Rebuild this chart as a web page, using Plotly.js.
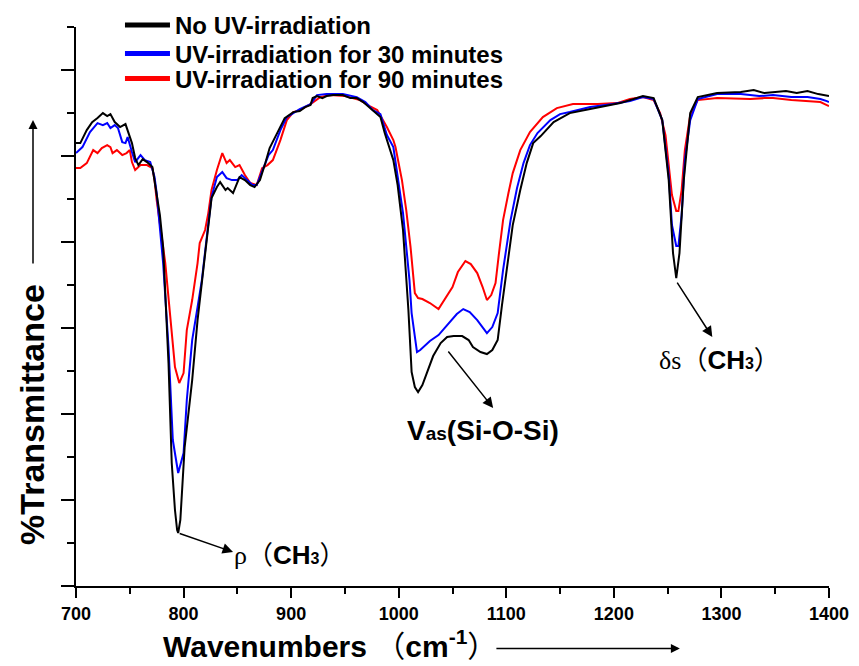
<!DOCTYPE html>
<html>
<head>
<meta charset="utf-8">
<script src="https://cdn.plot.ly/plotly-3.0.1.min.js"></script>
<style>html,body{margin:0;padding:0;background:#fff;}#chart{width:859px;height:666px;}</style>
</head>
<body>
<div id="chart"></div>
<script>
// Series names
var seriesNames = ["No UV-irradiation", "UV-irradiation for 30 minutes", "UV-irradiation for 90 minutes"];

// No UV-irradiation (black)
var wnBlack = [700,704,710,715,720,725,729,732,736,741,746,748,752,755,758,762,766,771,773,775,778,781,786,789,792,794,795,797,801,808,813,818,823,826,831,834,839,841,846,852,857,862,866,871,876,880,887,894,902,908,913,918,920,924,929,933,939,948,955,961,967,975,983,987,992,995,999,1004,1009,1012,1015,1018,1022,1026,1032,1039,1045,1051,1059,1065,1069,1076,1082,1087,1092,1096,1101,1106,1113,1119,1125,1132,1144,1159,1178,1194,1206,1215,1227,1237,1245,1251,1255,1258,1261,1265,1271,1278,1296,1318,1330,1340,1348,1360,1370,1380,1390,1398,1400];
var tBlack = [44.3,44.3,45.6,46.4,46.8,47.3,47.0,47.2,46.4,45.9,46.2,45.6,44.3,42.8,42.1,42.7,42.4,41.9,40.6,39.3,37.1,33.9,22.3,12.3,7.6,5.6,5.3,6.6,13.9,20.6,26.6,31.3,36.1,38.8,39.9,40.4,39.6,39.8,39.3,40.9,40.6,40.1,39.9,40.6,42.3,43.8,45.3,46.8,47.4,47.5,47.9,48.1,48.8,49.0,48.8,49.0,49.1,49.1,48.8,48.8,48.4,47.6,46.9,45.3,43.6,42.6,40.1,35.6,27.6,21.4,19.9,19.4,20.1,21.3,23.0,24.3,24.9,25.0,25.0,24.6,23.9,23.4,23.2,23.6,24.6,28.1,32.3,36.1,39.6,42.3,44.3,45.0,46.4,47.3,47.7,48.0,48.3,48.6,49.0,48.8,46.6,40.6,33.3,30.8,33.3,40.6,47.3,48.9,49.3,49.4,49.6,49.3,49.4,49.5,49.3,49.5,49.2,49.1,49.0];

// UV-irradiation for 30 minutes (blue)
var wnBlue = [700,706,713,720,725,729,732,736,739,743,746,748,752,755,760,764,769,773,775,781,786,790,795,800,803,808,813,817,822,826,831,836,840,845,850,854,859,864,868,874,879,883,890,896,908,918,924,933,948,961,969,976,983,989,995,1004,1010,1012,1015,1017,1020,1023,1029,1037,1042,1048,1054,1060,1066,1073,1079,1082,1087,1092,1097,1104,1110,1116,1122,1129,1141,1150,1159,1178,1199,1215,1227,1237,1245,1251,1254,1258,1260,1263,1266,1271,1278,1296,1318,1335,1348,1365,1380,1392,1398,1400];
var tBlue = [43.3,43.9,45.4,46.3,46.1,46.3,45.8,46.1,45.8,44.4,44.3,44.9,43.4,42.4,43.1,42.6,42.4,40.9,39.3,32.3,23.9,14.6,11.3,13.3,18.6,24.6,27.9,30.6,35.3,38.9,40.9,41.4,40.8,40.6,40.6,41.1,40.6,40.1,40.1,41.8,43.1,43.6,45.6,46.9,47.7,48.2,49.1,49.2,49.2,48.9,48.4,47.6,47.2,45.1,43.9,37.3,30.6,27.3,24.6,23.4,23.6,23.9,24.5,25.1,25.7,26.4,27.2,27.7,27.4,26.6,25.8,25.3,25.9,27.3,31.6,36.6,39.8,42.3,44.1,45.3,46.6,47.2,47.4,47.9,48.2,48.5,48.9,48.7,46.6,41.1,36.1,34.0,34.0,37.1,42.6,46.6,48.7,49.2,49.2,49.0,49.1,48.9,48.9,48.7,48.5,48.4];

// UV-irradiation for 90 minutes (red)
var wnRed = [700,704,710,716,720,724,729,732,734,738,743,747,750,752,755,760,766,771,773,775,783,787,792,796,800,803,808,813,815,820,823,826,831,836,840,843,848,852,857,862,868,873,878,883,890,896,902,908,918,927,936,950,964,973,980,989,995,997,1003,1007,1011,1015,1018,1022,1029,1037,1043,1050,1055,1062,1067,1073,1078,1082,1086,1090,1093,1097,1102,1106,1113,1122,1134,1147,1162,1185,1203,1215,1227,1237,1243,1248,1251,1254,1258,1260,1263,1266,1271,1278,1296,1318,1327,1340,1348,1365,1380,1392,1398,1400];
var tRed = [41.8,41.8,42.3,43.6,43.3,43.8,44.1,43.9,43.3,43.6,43.1,43.3,43.6,42.4,41.6,42.1,42.1,41.8,40.6,38.6,32.3,27.3,21.9,20.3,21.3,25.6,28.6,32.3,34.3,35.6,37.3,39.6,41.6,43.3,42.3,42.6,41.9,42.1,41.1,40.3,40.1,41.8,42.1,42.6,44.6,46.6,47.4,47.6,48.2,48.9,49.1,49.0,48.6,48.0,47.6,45.9,44.6,43.9,40.6,37.6,33.9,29.3,28.8,28.7,28.3,27.7,28.7,29.9,31.4,32.5,32.2,31.3,29.9,28.6,29.1,30.3,33.1,36.6,39.3,41.3,43.6,45.4,46.9,47.8,48.2,48.2,48.3,48.7,48.9,48.6,47.3,45.1,42.1,39.1,37.5,37.5,39.6,43.6,47.1,48.6,48.8,48.7,48.7,48.8,48.8,48.6,48.5,48.4,48.1,48.0];

// Axis
var xRange = [700, 1400];
var xTicks = [700, 800, 900, 1000, 1100, 1200, 1300, 1400];
var yRange = [0, 55.91];

var colors = ["#000000", "#0000ff", "#ff0000"];
var FONT = "Liberation Sans, Arial, sans-serif";
var CJK = "font-family:'Noto Sans CJK SC';font-weight:normal";
var SERIF = "font-family:'Liberation Serif';font-weight:normal";

var traces = [
  {x: wnRed, y: tRed, type: "scatter", mode: "lines", line: {color: colors[2], width: 2}, showlegend: false, hoverinfo: "skip"},
  {x: wnBlue, y: tBlue, type: "scatter", mode: "lines", line: {color: colors[1], width: 2}, showlegend: false, hoverinfo: "skip"},
  {x: wnBlack, y: tBlack, type: "scatter", mode: "lines", line: {color: colors[0], width: 2}, showlegend: false, hoverinfo: "skip"},
  // legend entries (thick lines)
  {x: [null], y: [null], type: "scatter", mode: "lines", name: seriesNames[0], line: {color: colors[0], width: 5}, legend: "legend"},
  {x: [null], y: [null], type: "scatter", mode: "lines", name: seriesNames[1], line: {color: colors[1], width: 5}, legend: "legend2"},
  {x: [null], y: [null], type: "scatter", mode: "lines", name: seriesNames[2], line: {color: colors[2], width: 5}, legend: "legend3"}
];

function legendAt(yTop) {
  return {x: 0.0584, xanchor: "left", y: yTop, yanchor: "top", bgcolor: "rgba(0,0,0,0)", borderwidth: 0,
          font: {family: FONT, size: 24, color: "#000", weight: "bold"}, itemwidth: 45, tracegroupgap: 0};
}

var arrowStyle = {showarrow: true, arrowhead: 2, arrowsize: 1.4, arrowwidth: 1.5, arrowcolor: "#000", text: "", startstandoff: 0, standoff: 0};

var annotations = [
  // rho(CH3)
  Object.assign({}, arrowStyle, {xref: "x", yref: "y", x: 846, y: 3.4, axref: "x", ayref: "y", ax: 795, ay: 5.3}),
  {xref: "x", yref: "y", x: 845, y: 3.4, xanchor: "left", yanchor: "middle", showarrow: false,
   text: "<span style=\"" + SERIF + "\">ρ</span><span style=\"" + CJK + "\">（</span>CH<span style=\"font-size:16px\">3</span><span style=\"" + CJK + "\">）</span>",
   font: {family: FONT, size: 26, color: "#000", weight: "bold"}},
  // Vas(Si-O-Si)
  Object.assign({}, arrowStyle, {xref: "x", yref: "y", x: 1087.8, y: 17.8, axref: "x", ayref: "y", ax: 1045, ay: 23.6}),
  {xref: "x", yref: "y", x: 1078.5, y: 15.6, xanchor: "center", yanchor: "middle", showarrow: false,
   text: "V<span style=\"font-size:19px\">as</span>(Si-O-Si)",
   font: {family: FONT, size: 28, color: "#000", weight: "bold"}},
  // delta s (CH3)
  Object.assign({}, arrowStyle, {xref: "x", yref: "y", x: 1291.5, y: 24.9, axref: "x", ayref: "y", ax: 1258, ay: 30.5}),
  {xref: "x", yref: "y", x: 1298.5, y: 22.9, xanchor: "center", yanchor: "middle", showarrow: false,
   text: "<span style=\"" + SERIF + "\">δs</span><span style=\"" + CJK + "\">（</span>CH<span style=\"font-size:16px\">3</span><span style=\"" + CJK + "\">）</span>",
   font: {family: FONT, size: 26, color: "#000", weight: "bold"}},
  // x-axis title
  {xref: "paper", yref: "paper", x: 0.337, y: -0.104, xanchor: "center", yanchor: "middle", showarrow: false,
   text: "Wavenumbers <span style=\"" + CJK + "\">（</span>cm<sup>-1</sup><span style=\"" + CJK + "\">）</span>",
   font: {family: FONT, size: 30, color: "#000", weight: "bold"}},
  Object.assign({}, arrowStyle, {xref: "paper", yref: "paper", x: 0.802, y: -0.112, ax: -185, ay: 0, arrowwidth: 1.5, arrowsize: 1.2}),
  // y-axis title
  {xref: "paper", yref: "paper", x: -0.0584, y: 0.306, xanchor: "center", yanchor: "middle", showarrow: false, textangle: -90,
   text: "%Transmittance",
   font: {family: FONT, size: 34, color: "#000", weight: "bold"}},
  Object.assign({}, arrowStyle, {xref: "paper", yref: "paper", x: -0.0571, y: 0.8336, ax: 0, ay: 145, arrowwidth: 1.5, arrowsize: 1.2})
];

var layout = {
  width: 859, height: 666,
  margin: {l: 76, r: 30, t: 27, b: 80, pad: 0, autoexpand: false},
  paper_bgcolor: "#ffffff", plot_bgcolor: "#ffffff",
  showlegend: true,
  legend: legendAt(1.043),
  legend2: legendAt(0.992),
  legend3: legendAt(0.9472),
  xaxis: {
    range: xRange, tickmode: "array", tickvals: xTicks, ticktext: xTicks.map(String),
    showgrid: false, zeroline: false, showline: true, linecolor: "#000", linewidth: 2,
    ticks: "outside", ticklen: 10, tickwidth: 2, tickcolor: "#000",
    minor: {dtick: 50, ticks: "outside", ticklen: 6, tickwidth: 2, tickcolor: "#000", showgrid: false},
    tickfont: {family: FONT, size: 18, color: "#000", weight: "bold"},
    mirror: false, automargin: false
  },
  yaxis: {
    range: yRange, tick0: 0, dtick: 8.6, showticklabels: false,
    showgrid: false, zeroline: false, showline: true, linecolor: "#000", linewidth: 2,
    ticks: "outside", ticklen: 13, tickwidth: 2, tickcolor: "#000",
    minor: {tick0: 0, dtick: 4.3, ticks: "outside", ticklen: 7, tickwidth: 2, tickcolor: "#000", showgrid: false},
    mirror: false, automargin: false
  },
  annotations: annotations
};

Plotly.newPlot("chart", traces, layout, {displayModeBar: false, staticPlot: true});
</script>
</body>
</html>
